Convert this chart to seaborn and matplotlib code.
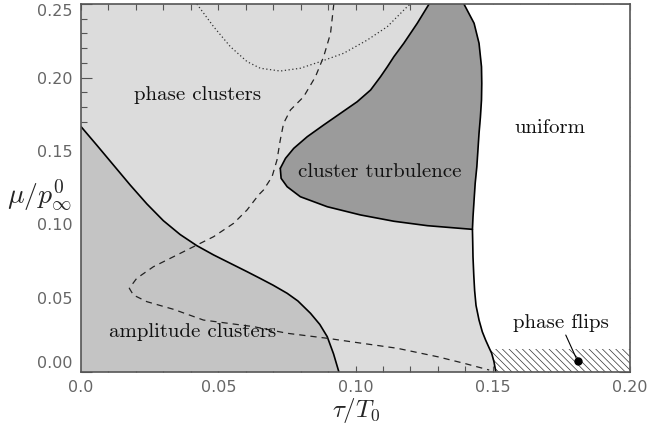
import numpy as np
import matplotlib
matplotlib.use("Agg")
import matplotlib.pyplot as plt
import seaborn as sns
from matplotlib.ticker import MultipleLocator

# ---------------- data ----------------
# boundary between phase clusters / cluster turbulence and the uniform state
uniform_x = [0.1395, 0.1432, 0.1450, 0.1459, 0.1460, 0.1459, 0.1455, 0.1450, 0.1442,
             0.1436, 0.1432, 0.1428, 0.1426, 0.1427, 0.1428, 0.1431, 0.1434, 0.1439,
             0.1450, 0.1462, 0.1474, 0.1487, 0.1496, 0.1504, 0.1511]
uniform_y = [0.2500, 0.2369, 0.2233, 0.2073, 0.1960, 0.1847, 0.1730, 0.1620, 0.1393,
             0.1280, 0.1167, 0.1050, 0.0967, 0.0880, 0.0780, 0.0650, 0.0550, 0.0450,
             0.0350, 0.0270, 0.0214, 0.0160, 0.0124, 0.0070, 0.0000]

# amplitude cluster boundary
amp_x = [0.0000, 0.0057, 0.0118, 0.0179, 0.0240, 0.0300, 0.0361, 0.0422, 0.0483,
         0.0544, 0.0605, 0.0653, 0.0700, 0.0751, 0.0790, 0.0836, 0.0870, 0.0897,
         0.0920, 0.0939]
amp_y = [0.1666, 0.1541, 0.1405, 0.1269, 0.1140, 0.1026, 0.0932, 0.0856, 0.0793,
         0.0736, 0.0679, 0.0633, 0.0587, 0.0532, 0.0480, 0.0396, 0.0320, 0.0237,
         0.0120, 0.0000]

# cluster turbulence: upper boundary (tip -> top) and lower boundary (right -> tip)
turb_up_x = [0.0726, 0.0745, 0.0775, 0.0824, 0.0884, 0.0945, 0.1006, 0.1055, 0.1091,
             0.1116, 0.1140, 0.1176, 0.1225, 0.1268]
turb_up_y = [0.1382, 0.1450, 0.1518, 0.1597, 0.1677, 0.1756, 0.1835, 0.1915, 0.2005,
             0.2073, 0.2142, 0.2233, 0.2369, 0.2500]
turb_lo_x = [0.1426, 0.1262, 0.1140, 0.1018, 0.0897, 0.0799, 0.0751, 0.0729, 0.0726]
turb_lo_y = [0.0967, 0.0992, 0.1022, 0.1065, 0.1121, 0.1189, 0.1257, 0.1314, 0.1382]

# dashed curve
dash_x = [0.0921, 0.0909, 0.0884, 0.0854, 0.0811, 0.0763, 0.0738, 0.0726, 0.0714,
          0.0696, 0.0665, 0.0647, 0.0605, 0.0556, 0.0483, 0.0410, 0.0337, 0.0264,
          0.0203, 0.0176, 0.0191, 0.0240, 0.0337, 0.0446, 0.0629, 0.0751, 0.0897,
          0.0982, 0.1152, 0.1300, 0.1395, 0.1487]
dash_y = [0.2500, 0.2300, 0.2142, 0.2005, 0.1869, 0.1779, 0.1688, 0.1575, 0.1439,
          0.1325, 0.1235, 0.1201, 0.1099, 0.1008, 0.0917, 0.0849, 0.0781, 0.0713,
          0.0634, 0.0566, 0.0520, 0.0475, 0.0423, 0.0350, 0.0305, 0.0260, 0.0226,
          0.0203, 0.0158, 0.0100, 0.0056, 0.0010]

# dotted curve
dot_x = [0.0422, 0.0483, 0.0544, 0.0605, 0.0653, 0.0726, 0.0799, 0.0872, 0.0957,
         0.1043, 0.1116, 0.1189, 0.1200]
dot_y = [0.2500, 0.2346, 0.2210, 0.2108, 0.2063, 0.2044, 0.2063, 0.2108, 0.2165,
         0.2255, 0.2346, 0.2483, 0.2500]

# phase flips (hatched strip)
flip_x = [0.1511, 0.2000, 0.2000, 0.1490]
flip_y = [0.0000, 0.0000, 0.0150, 0.0150]
flip_point = (0.1809, 0.0071)
flip_text_anchor = (0.1766, 0.0248)

xticks = [0.0, 0.05, 0.10, 0.15, 0.20]
xtick_labels = ["0.0", "0.05", "0.10", "0.15", "0.20"]
yticks = [0.00, 0.05, 0.10, 0.15, 0.20, 0.25]
ytick_labels = ["0.00", "0.05", "0.10", "0.15", "0.20", "0.25"]

region_labels = ["phase clusters", "cluster turbulence", "uniform",
                 "amplitude clusters", "phase flips"]
region_label_x = [0.0425, 0.1090, 0.1707, 0.0407, 0.1748]
region_label_y = [0.1880, 0.1360, 0.1654, 0.0271, 0.0328]

# ---------------- style ----------------
sns.set_theme(style="ticks")
plt.rcParams["mathtext.fontset"] = "cm"
plt.rcParams["hatch.linewidth"] = 0.5
plt.rcParams["hatch.color"] = "#333333"
plt.rcParams["font.family"] = ["DejaVu Sans"]

light = "#dcdcdc"
mid = "#c4c4c4"
dark = "#9b9b9b"

fig = plt.figure(figsize=(6.49, 4.24), dpi=100)
ax = fig.add_axes([81 / 649, 52.5 / 424, 549 / 649, 367.5 / 424])
ax.set_xlim(0, 0.2)
ax.set_ylim(0, 0.25)
ax.set_facecolor(light)

# uniform region (white)
ax.fill_betweenx(uniform_y, uniform_x, 0.2, color="white", lw=0, zorder=1)

# amplitude clusters
ax.fill([0.0] + amp_x, [0.0] + amp_y, color=mid, lw=0, zorder=1)

# cluster turbulence
ux = np.array(uniform_x)
uy = np.array(uniform_y)
mask = uy >= turb_lo_y[0]
poly_x = list(turb_up_x) + list(ux[mask]) + list(turb_lo_x)
poly_y = list(turb_up_y) + list(uy[mask]) + list(turb_lo_y)
ax.fill(poly_x, poly_y, color=dark, lw=0, zorder=1)

# phase flips hatch
ax.fill(flip_x, flip_y, facecolor="white", edgecolor="#333333",
        hatch="\\" * 5, lw=0, zorder=1)

# boundaries
lw = 1.2
for xs, ys in [(uniform_x, uniform_y), (amp_x, amp_y),
               (turb_up_x, turb_up_y), (turb_lo_x, turb_lo_y)]:
    sns.lineplot(x=xs, y=ys, sort=False, estimator=None, color="black",
                 lw=lw, ax=ax, zorder=3)
    ax.lines[-1].set_solid_joinstyle("round")

sns.lineplot(x=dash_x, y=dash_y, sort=False, estimator=None, color="#222222",
             lw=0.9, ax=ax, zorder=3)
ax.lines[-1].set_linestyle((0, (5, 4)))
sns.lineplot(x=dot_x, y=dot_y, sort=False, estimator=None, color="#333333",
             lw=0.9, ax=ax, zorder=3)
ax.lines[-1].set_linestyle((0, (1, 2)))

# phase flips pointer
ax.plot([flip_text_anchor[0], flip_point[0]], [flip_text_anchor[1], flip_point[1]],
        color="black", lw=0.8, zorder=4)
ax.plot([flip_point[0]], [flip_point[1]], "o", color="black", ms=5, zorder=4)

# region labels
for t, x, y in zip(region_labels, region_label_x, region_label_y):
    ax.text(x, y, t, family="cmr10", fontsize=15, ha="center", va="center",
            color="#111111", zorder=5)

# ticks
ax.set_xticks(xticks)
ax.set_xticklabels(xtick_labels)
ax.set_yticks(yticks)
ax.set_yticklabels(ytick_labels)
ax.xaxis.set_minor_locator(MultipleLocator(0.01))
ax.yaxis.set_minor_locator(MultipleLocator(0.01))
ax.tick_params(which="both", direction="in", top=True, right=True,
               color="#555555", width=0.8)
ax.tick_params(axis="x", which="both", length=4, pad=6, labelsize=11.5,
               labelcolor="#666666")
ax.tick_params(axis="y", which="major", length=8, pad=6, labelsize=11.5,
               labelcolor="#666666")
ax.tick_params(axis="y", which="minor", length=4)
ylabels = ax.get_yticklabels()
ylabels[0].set_verticalalignment("bottom")
ylabels[-1].set_verticalalignment("top")
for s in ax.spines.values():
    s.set_color("#555555")
    s.set_linewidth(1.2)
    s.set_zorder(6)

ax.set_xlabel(r"$\tau/T_0$", fontsize=18, va="baseline")
ax.xaxis.set_label_coords(0.501, -0.124)
ax.set_ylabel(r"$\mu/p^0_\infty$", fontsize=20, rotation=0, ha="center", va="center")
ax.yaxis.set_label_coords(-0.075, 0.48)

fig.savefig("out.png", dpi=100)
